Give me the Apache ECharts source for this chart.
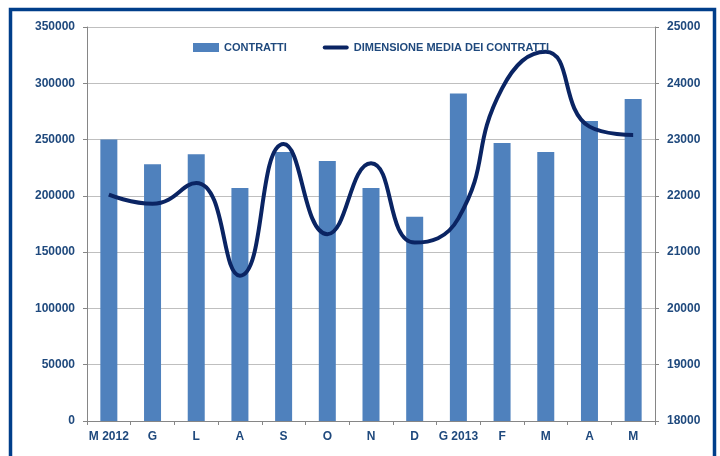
<!DOCTYPE html>
<html>
<head>
<meta charset="utf-8">
<script src="https://cdn.jsdelivr.net/npm/echarts@6/dist/echarts.min.js"></script>
<style>
  html, body { margin: 0; padding: 0; background: #fff; }
  #chart { width: 720px; height: 456px; }
</style>
</head>
<body>
<div id="chart"></div>
<script>
// months, May 2012 -> May 2013
const months = ['M 2012', 'G', 'L', 'A', 'S', 'O', 'N', 'D', 'G 2013', 'F', 'M', 'A', 'M']
const contratti = [250000, 228000, 237000, 207000, 239000, 231000, 207000, 181500, 291000, 247000, 239000, 266500, 286000]
const dimensioneMedia = [22020, 21860, 22230, 20580, 22920, 21320, 22580, 21170, 21600, 23910, 24560, 23230, 23080]

const textColor = '#1F497D'
const font = 'Liberation Sans'
const plain = v => String(v)

const chart = echarts.init(document.getElementById('chart'))
const option = {
  animation: false,
  textStyle: { fontFamily: font },
  graphic: [
    {
      type: 'rect',
      shape: { x: 10.5, y: 9.5, width: 704, height: 470 },
      style: { fill: 'none', stroke: '#003E8A', lineWidth: 3.5 }
    }
  ],
  legend: {
    top: 37,
    left: 188,
    itemGap: 36,
    itemWidth: 26,
    itemHeight: 9,
    textStyle: { color: textColor, fontWeight: 'bold', fontSize: 11, fontFamily: font },
    data: [
      { name: 'CONTRATTI', icon: 'rect' },
      { name: 'DIMENSIONE MEDIA DEI CONTRATTI', icon: 'path://M2,0 L24,0 A2,2 0 0 1 24,4 L2,4 A2,2 0 0 1 2,0 Z' }
    ]
  },
  grid: { left: 87, right: 65, top: 27, bottom: 35 },
  xAxis: {
    type: 'category',
    data: months,
    axisLine: { lineStyle: { color: '#868686' } },
    axisTick: { show: true, length: 4, lineStyle: { color: '#868686' } },
    axisLabel: { color: textColor, fontWeight: 'bold', fontSize: 12, margin: 10, interval: 0 }
  },
  yAxis: [
    {
      type: 'value',
      min: 0,
      max: 350000,
      interval: 50000,
      axisLine: { show: true, lineStyle: { color: '#868686' } },
      axisTick: { show: true, length: 4, lineStyle: { color: '#868686' } },
      splitLine: { lineStyle: { color: '#BFBFBF' } },
      axisLabel: { color: textColor, fontWeight: 'bold', fontSize: 12, margin: 12, formatter: plain }
    },
    {
      type: 'value',
      min: 18000,
      max: 25000,
      interval: 1000,
      position: 'right',
      axisLine: { show: true, lineStyle: { color: '#868686' } },
      axisTick: { show: true, length: 4, lineStyle: { color: '#868686' } },
      splitLine: { show: false },
      axisLabel: { color: textColor, fontWeight: 'bold', fontSize: 12, margin: 12, formatter: plain }
    }
  ],
  series: [
    {
      name: 'CONTRATTI',
      type: 'bar',
      data: contratti,
      barWidth: 17,
      itemStyle: { color: '#4F81BD' }
    },
    {
      name: 'DIMENSIONE MEDIA DEI CONTRATTI',
      type: 'line',
      yAxisIndex: 1,
      data: dimensioneMedia,
      smooth: 0.5,
      symbol: 'none',
      lineStyle: { color: '#0A2463', width: 4 },
      itemStyle: { color: '#0A2463' }
    }
  ]
}
chart.setOption(option)
</script>
</body>
</html>
